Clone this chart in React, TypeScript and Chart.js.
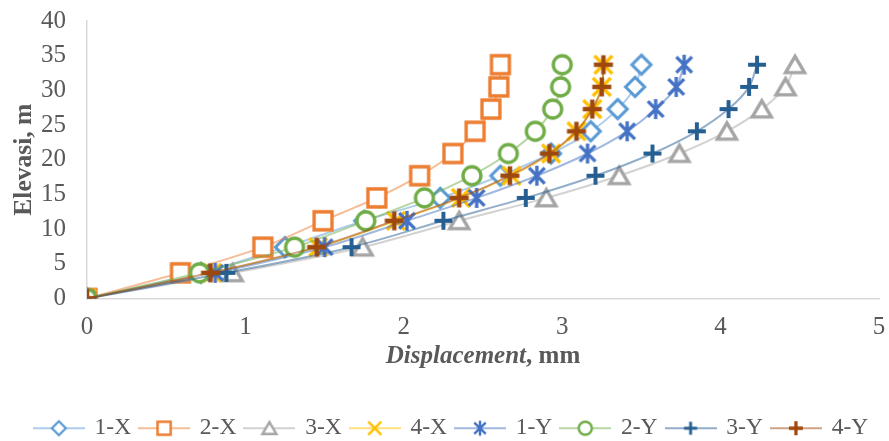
import React, { useEffect, useRef } from 'react';
import { Chart, registerables } from 'chart.js';

Chart.register(...registerables);

// ---------- data ----------
const elevations = [0, 3.7, 7.4, 11.2, 14.5, 17.7, 20.9, 24.1, 27.3, 30.5, 33.7];
const seriesNames = ['1-X', '2-X', '3-X', '4-X', '1-Y', '2-Y', '3-Y', '4-Y'];
const disp1X = [0, 0.72, 1.25, 1.75, 2.23, 2.61, 2.93, 3.18, 3.35, 3.46, 3.5];
const disp2X = [0, 0.59, 1.11, 1.49, 1.83, 2.1, 2.31, 2.45, 2.55, 2.6, 2.61];
const disp3X = [0, 0.92, 1.74, 2.35, 2.9, 3.36, 3.74, 4.04, 4.26, 4.41, 4.47];
const disp4X = [0, 0.79, 1.46, 1.95, 2.36, 2.68, 2.93, 3.09, 3.19, 3.25, 3.26];
const disp1Y = [0, 0.81, 1.5, 2.02, 2.46, 2.84, 3.16, 3.41, 3.59, 3.72, 3.77];
const disp2Y = [0, 0.71, 1.31, 1.76, 2.13, 2.43, 2.66, 2.83, 2.94, 2.99, 3.0];
const disp3Y = [0, 0.88, 1.67, 2.25, 2.77, 3.21, 3.57, 3.85, 4.05, 4.18, 4.23];
const disp4Y = [0, 0.78, 1.45, 1.94, 2.35, 2.67, 2.92, 3.09, 3.19, 3.25, 3.26];
const seriesValues = [disp1X, disp2X, disp3X, disp4X, disp1Y, disp2Y, disp3Y, disp4Y];

const xAxisMin = 0;
const xAxisMax = 5;
const xAxisStep = 1;
const yAxisMin = 0;
const yAxisMax = 40;
const yAxisStep = 5;
const yAxisTitle = 'Elevasi, m';
const xAxisTitleItalic = 'Displacement';
const xAxisTitleRest = ', mm';

// ---------- styles ----------
const markerColors = ['#5B9BD5', '#ED7D31', '#A5A5A5', '#FFC000', '#4472C4', '#70AD47', '#255E91', '#9E480E'];
const markerKinds = ['diamond', 'square', 'triangle', 'x', 'asterisk', 'circle', 'plus', 'plusBold'];
const FONT = '"Liberation Serif", "Times New Roman", serif';
const TEXT = '#595959';

function hexToRgba(hex: string, a: number) {
  const n = parseInt(hex.slice(1), 16);
  return `rgba(${(n >> 16) & 255},${(n >> 8) & 255},${n & 255},${a})`;
}

function drawMarker(ctx: CanvasRenderingContext2D, kind: string, cx: number, cy: number, k: number, color: string) {
  ctx.save();
  ctx.strokeStyle = color;
  ctx.fillStyle = '#ffffff';
  ctx.lineCap = 'butt';
  ctx.lineJoin = 'miter';
  ctx.beginPath();
  switch (kind) {
    case 'diamond': {
      const r = 8.5 * k;
      ctx.lineWidth = 2.8 * k;
      ctx.moveTo(cx, cy - r);
      ctx.lineTo(cx + r, cy);
      ctx.lineTo(cx, cy + r);
      ctx.lineTo(cx - r, cy);
      ctx.closePath();
      ctx.fill();
      ctx.stroke();
      break;
    }
    case 'square': {
      const h = 8 * k;
      ctx.lineWidth = 3 * k;
      ctx.rect(cx - h, cy - h, 2 * h, 2 * h);
      ctx.fill();
      ctx.stroke();
      break;
    }
    case 'triangle': {
      const h = 8.5 * k;
      ctx.lineWidth = 3 * k;
      ctx.moveTo(cx, cy - 7.5 * k);
      ctx.lineTo(cx + h, cy + 7 * k);
      ctx.lineTo(cx - h, cy + 7 * k);
      ctx.closePath();
      ctx.fill();
      ctx.stroke();
      break;
    }
    case 'x': {
      const r = 8 * k;
      ctx.lineWidth = 3 * k;
      ctx.moveTo(cx - r, cy - r);
      ctx.lineTo(cx + r, cy + r);
      ctx.moveTo(cx - r, cy + r);
      ctx.lineTo(cx + r, cy - r);
      ctx.stroke();
      break;
    }
    case 'asterisk': {
      const r = 7 * k;
      ctx.lineWidth = 3 * k;
      ctx.moveTo(cx - r, cy - r);
      ctx.lineTo(cx + r, cy + r);
      ctx.moveTo(cx - r, cy + r);
      ctx.lineTo(cx + r, cy - r);
      ctx.moveTo(cx, cy - 9 * k);
      ctx.lineTo(cx, cy + 9 * k);
      ctx.stroke();
      break;
    }
    case 'circle': {
      ctx.lineWidth = 3 * k;
      ctx.arc(cx, cy, 8 * k, 0, Math.PI * 2);
      ctx.fill();
      ctx.stroke();
      break;
    }
    case 'plus': {
      const r = 8 * k;
      ctx.lineWidth = 3.5 * k;
      ctx.moveTo(cx - r, cy);
      ctx.lineTo(cx + r, cy);
      ctx.moveTo(cx, cy - r);
      ctx.lineTo(cx, cy + r);
      ctx.stroke();
      break;
    }
    case 'plusBold': {
      const r = 8.5 * k;
      ctx.lineWidth = 4 * k;
      ctx.moveTo(cx - r, cy);
      ctx.lineTo(cx + r, cy);
      ctx.moveTo(cx, cy - r);
      ctx.lineTo(cx, cy + r);
      ctx.stroke();
      break;
    }
  }
  ctx.restore();
}

function makePointCanvas(kind: string, color: string) {
  const c = document.createElement('canvas');
  c.width = 32;
  c.height = 32;
  const ctx = c.getContext('2d')!;
  drawMarker(ctx, kind, 16, 16, 1.12, color);
  return c;
}

function makeLegendCanvas(kind: string, color: string, lineColor: string) {
  const c = document.createElement('canvas');
  c.width = 52;
  c.height = 22;
  const ctx = c.getContext('2d')!;
  ctx.strokeStyle = lineColor;
  ctx.lineWidth = 2;
  ctx.beginPath();
  ctx.moveTo(0, 11);
  ctx.lineTo(52, 11);
  ctx.stroke();
  drawMarker(ctx, kind, 26, 11, 0.82, color);
  return c;
}

const xTitlePlugin = {
  id: 'xTitleMixed',
  afterDraw(chart: any) {
    const { ctx, chartArea } = chart;
    ctx.save();
    ctx.fillStyle = TEXT;
    ctx.textBaseline = 'middle';
    ctx.textAlign = 'left';
    const fItalic = `italic bold 25px ${FONT}`;
    const fBold = `bold 25px ${FONT}`;
    ctx.font = fItalic;
    const wa = ctx.measureText(xAxisTitleItalic).width;
    ctx.font = fBold;
    const wb = ctx.measureText(xAxisTitleRest).width;
    const cx = (chartArea.left + chartArea.right) / 2;
    const x0 = cx - (wa + wb) / 2;
    const y = chartArea.bottom + 58;
    ctx.font = fItalic;
    ctx.fillText(xAxisTitleItalic, x0, y);
    ctx.font = fBold;
    ctx.fillText(xAxisTitleRest, x0 + wa, y);
    ctx.restore();
  },
};

const legendShiftPlugin = {
  id: 'legendShift',
  afterLayout(chart: any) {
    const l = chart.legend;
    if (l) {
      l.top += 9;
      l.bottom += 9;
      l.left += 9;
      l.right += 9;
    }
  },
};

export default function App() {
  const ref = useRef<HTMLCanvasElement>(null);

  useEffect(() => {
    if (!ref.current) return;
    const n = seriesNames.length;
    const lineColors = markerColors.map((c) => hexToRgba(c, 0.5));
    const pointImgs = markerKinds.map((k, i) => makePointCanvas(k, markerColors[i]));
    const legendImgs = markerKinds.map((k, i) => makeLegendCanvas(k, markerColors[i], lineColors[i]));

    const datasets = seriesNames.map((name, i) => ({
      label: name,
      data: seriesValues[i].map((v, j) => ({ x: v, y: elevations[j] })),
      showLine: true,
      borderColor: lineColors[i],
      backgroundColor: markerColors[i],
      borderWidth: 2,
      tension: 0.3,
      pointStyle: pointImgs[i],
      pointRadius: 8,
      pointHoverRadius: 8,
      order: n - 1 - i,
    }));

    const chart = new Chart(ref.current, {
      type: 'scatter',
      data: { datasets },
      options: {
        responsive: false,
        animation: false,
        layout: { padding: { top: 21, right: 4, left: 0, bottom: 0 } },
        scales: {
          x: {
            type: 'linear',
            min: xAxisMin,
            max: xAxisMax,
            grid: { display: false },
            border: { display: true, color: '#D9D9D9', width: 1.5 },
            ticks: {
              stepSize: xAxisStep,
              color: TEXT,
              font: { family: FONT, size: 25 },
              padding: 6,
            },
            title: { display: false },
            afterFit: (scale: any) => {
              scale.height = 100;
              scale.paddingLeft = 0;
              scale.paddingRight = 0;
            },
          },
          y: {
            type: 'linear',
            min: yAxisMin,
            max: yAxisMax,
            grid: { display: false },
            border: { display: true, color: '#D9D9D9', width: 1.5 },
            ticks: {
              stepSize: yAxisStep,
              color: TEXT,
              font: { family: FONT, size: 25 },
              padding: 13,
            },
            title: {
              display: true,
              text: yAxisTitle,
              color: TEXT,
              font: { family: FONT, size: 25.5, weight: 'bold' },
              padding: { top: 9, bottom: 0 },
            },
            afterFit: (scale: any) => {
              scale.width = 87;
              scale.paddingTop = 0;
              scale.paddingBottom = 0;
            },
          },
        },
        plugins: {
          tooltip: { enabled: false },
          legend: {
            display: true,
            position: 'bottom',
            reverse: true,
            labels: {
              usePointStyle: true,
              pointStyleWidth: 48,
              padding: 9,
              color: TEXT,
              font: { family: FONT, size: 23.5 },
              generateLabels: (ch: any) => {
                const items = (Chart.defaults.plugins.legend.labels as any).generateLabels(ch);
                return items.map((it: any) => ({ ...it, pointStyle: legendImgs[it.datasetIndex], fontColor: TEXT }));
              },
            },
          },
        },
      },
      plugins: [xTitlePlugin, legendShiftPlugin],
    } as any);

    return () => chart.destroy();
  }, []);

  return (
    <div style={{ position: 'absolute', left: 0, top: 0, width: 889, height: 441, background: '#fff' }}>
      <canvas ref={ref} width={889} height={441} style={{ display: 'block' }} />
    </div>
  );
}
